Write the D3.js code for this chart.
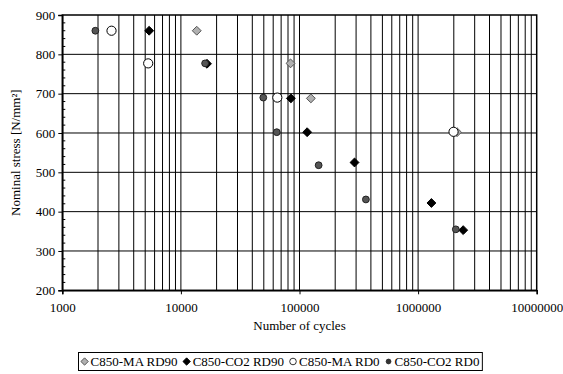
<!DOCTYPE html>
<html><head><meta charset="utf-8">
<script src="https://cdn.jsdelivr.net/npm/d3@7"></script>
</head><body style="margin:0;background:#fff">
<svg id="c" width="563" height="374" font-family="Liberation Serif"></svg>
<script>
const seriesNames = ["C850-MA RD90", "C850-CO2 RD90", "C850-MA RD0", "C850-CO2 RD0"];
const maRD90 = [[13600, 860], [84000, 777], [124700, 688], [2130000, 602]];
const co2RD90 = [[5400, 860], [16600, 776], [84600, 688], [116000, 602], [291000, 525], [1295000, 422], [2400000, 353]];
const maRD0 = [[2600, 860], [5300, 777], [65000, 690], [1990000, 603]];
const co2RD0 = [[1900, 860], [16000, 777], [49500, 690], [64300, 602], [145000, 518], [363000, 431], [2080000, 355]];
const xTickLabels = ["1000", "10000", "100000", "1000000", "10000000"];
const yTickLabels = [200, 300, 400, 500, 600, 700, 800, 900];

const FONT = "Liberation Serif";
const FS = "13px";
const svg = d3.select("#c");
const x = d3.scaleLog().domain([1000, 1e7]).range([62.3, 536.7]);
const y = d3.scaleLinear().domain([200, 900]).range([290.3, 15]);

// vertical grid (log minor + major)
const vTicks = [];
for (let e = 3; e < 7; e++) for (let m = 1; m <= 9; m++) vTicks.push(m * Math.pow(10, e));
svg.append("g").selectAll("line").data(vTicks.filter(v => v > 1000)).join("line")
  .attr("x1", d => x(d)).attr("x2", d => x(d)).attr("y1", y(900)).attr("y2", y(200))
  .attr("stroke", "#000").attr("stroke-width", 1);
// horizontal grid
svg.append("g").selectAll("line").data(yTickLabels.filter(v => v > 200 && v < 900)).join("line")
  .attr("x1", x(1000)).attr("x2", x(1e7)).attr("y1", d => y(d)).attr("y2", d => y(d))
  .attr("stroke", "#000").attr("stroke-width", 1);
// plot border
svg.append("rect").attr("x", x(1000)).attr("y", y(900)).attr("width", x(1e7) - x(1000)).attr("height", y(200) - y(900))
  .attr("fill", "none").attr("stroke", "#000").attr("stroke-width", 1.5);

// Y axis
const yAxis = d3.axisLeft(y).tickValues(yTickLabels).tickSize(4).tickPadding(3).tickFormat(d3.format("d"));
const gy = svg.append("g").attr("transform", `translate(${x(1000)},0)`).call(yAxis)
  .attr("font-family", FONT).attr("font-size", FS);
gy.select(".domain").attr("stroke-width", 1.5);
gy.selectAll("text").attr("fill", "#000").attr("font-family", FONT);
// minor y ticks (inside)
const minorY = d3.range(200, 901, 20).filter(v => v % 100 !== 0);
svg.append("g").selectAll("line").data(minorY).join("line")
  .attr("x1", x(1000)).attr("x2", x(1000) + 3).attr("y1", d => y(d)).attr("y2", d => y(d)).attr("stroke", "#000");

// X axis
const xAxis = d3.axisBottom(x).tickValues(xTickLabels.map(Number)).tickSize(4).tickPadding(8).tickFormat(d3.format("d"));
const gx = svg.append("g").attr("transform", `translate(0,${y(200)})`).call(xAxis)
  .attr("font-family", FONT).attr("font-size", FS);
gx.select(".domain").attr("stroke-width", 1.5);
gx.selectAll("text").attr("fill", "#000").attr("font-family", FONT);

// axis titles
svg.append("text").attr("x", (x(1000) + x(1e7)) / 2).attr("y", 330).attr("text-anchor", "middle")
  .attr("font-family", FONT).attr("font-size", FS).text("Number of cycles");
svg.append("text").attr("transform", `translate(20,${y(550)}) rotate(-90)`).attr("text-anchor", "middle")
  .attr("font-family", FONT).attr("font-size", FS).text("Nominal stress [N/mm²]");

const diamond = d3.symbol().type(d3.symbolDiamond2).size(50);
const styles = [
  {data: maRD90, shape: "diamond", fill: "#b0b0b0", stroke: "#555", r: 0},
  {data: co2RD90, shape: "diamond", fill: "#000", stroke: "#000", r: 0},
  {data: maRD0, shape: "circle", fill: "#fff", stroke: "#000", r: 4.6},
  {data: co2RD0, shape: "circle", fill: "#555", stroke: "#222", r: 3.4}
];
function drawMark(g, s, cx, cy) {
  if (s.shape === "diamond") {
    g.append("path").attr("d", diamond()).attr("transform", `translate(${cx},${cy})`)
      .attr("fill", s.fill).attr("stroke", s.stroke).attr("stroke-width", 1);
  } else {
    g.append("circle").attr("cx", cx).attr("cy", cy).attr("r", s.r)
      .attr("fill", s.fill).attr("stroke", s.stroke).attr("stroke-width", 1);
  }
}
const pts = svg.append("g");
styles.forEach(s => s.data.forEach(d => drawMark(pts, s, x(d[0]), y(d[1]))));

// legend
const lg = svg.append("g");
const box = lg.append("rect").attr("y", 352.5).attr("height", 18)
  .attr("fill", "#fff").attr("stroke", "#000").attr("stroke-width", 1);
const lstyles = [
  {shape: "diamond", fill: "#b0b0b0", stroke: "#555"},
  {shape: "diamond", fill: "#000", stroke: "#000"},
  {shape: "circle", fill: "#fff", stroke: "#000", r: 3.3},
  {shape: "circle", fill: "#333", stroke: "#222", r: 2.4}
];
const smallDiamond = d3.symbol().type(d3.symbolDiamond2).size(34);
let cur = 0;
seriesNames.forEach((n, i) => {
  const s = lstyles[i];
  const g = lg.append("g");
  if (s.shape === "diamond") {
    g.append("path").attr("d", smallDiamond()).attr("transform", `translate(${cur + 4},361.5)`)
      .attr("fill", s.fill).attr("stroke", s.stroke);
  } else {
    g.append("circle").attr("cx", cur + 4).attr("cy", 361.5).attr("r", s.r).attr("fill", s.fill).attr("stroke", s.stroke).attr("stroke-width", 0.8);
  }
  const t = g.append("text").attr("x", cur + 10).attr("y", 366).attr("font-family", FONT).attr("font-size", FS).text(n);
  cur += 10 + t.node().getComputedTextLength() + 5;
});
const total = cur - 5;
const left = 280 - total / 2;
lg.selectAll("g").attr("transform", `translate(${left},0)`);
box.attr("x", Math.round(left) - 2.5).attr("width", total + 5);
</script>
</body></html>
